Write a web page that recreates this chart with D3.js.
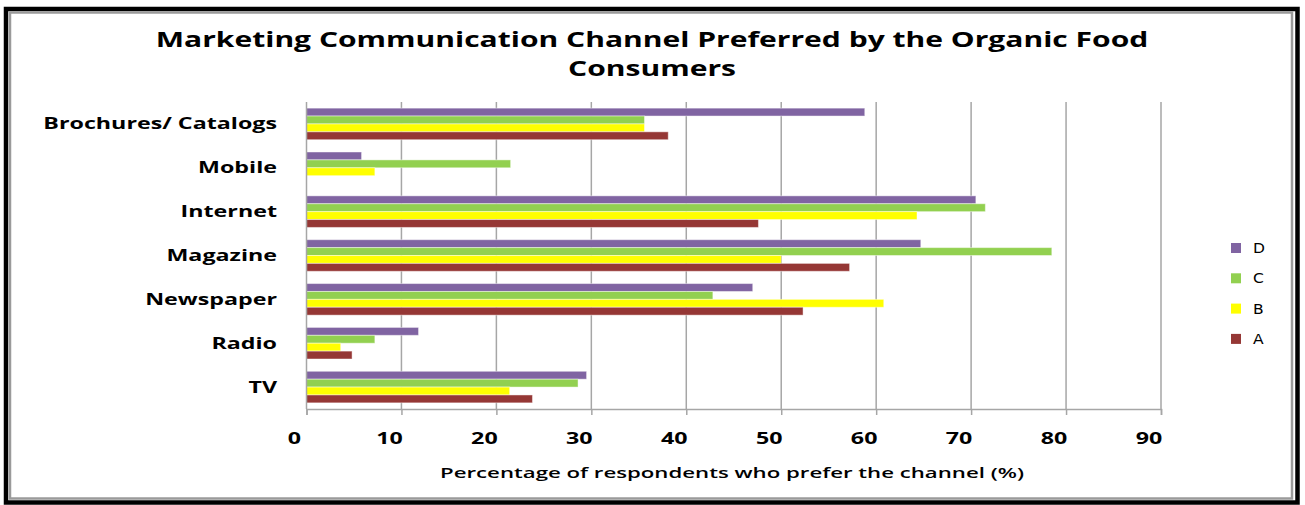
<!DOCTYPE html>
<html><head><meta charset="utf-8">
<script src="https://cdn.jsdelivr.net/npm/d3@7"></script>
<style>body{margin:0;background:#fff}svg{display:block}</style>
</head><body><svg id="c" width="1305" height="505"></svg>
<script>
const titleLines = ["Marketing Communication Channel Preferred by the Organic Food", "Consumers"];
const categories = ["Brochures/ Catalogs", "Mobile", "Internet", "Magazine", "Newspaper", "Radio", "TV"];
const seriesNames = ["D", "C", "B", "A"];
const seriesColors = ["#8064A2", "#92D050", "#FFFF00", "#953735"];
const valuesD = [58.8, 5.8, 70.5, 64.7, 47.0, 11.8, 29.5];
const valuesC = [35.6, 21.5, 71.5, 78.5, 42.8, 7.2, 28.6];
const valuesB = [35.6, 7.2, 64.3, 50.0, 60.8, 3.6, 21.4];
const valuesA = [38.1, 0, 47.6, 57.2, 52.3, 4.8, 23.8];
const xTicks = [0, 10, 20, 30, 40, 50, 60, 70, 80, 90];
const xTitle = "Percentage of respondents who prefer the channel (%)";

const seriesValues = {D: valuesD, C: valuesC, B: valuesB, A: valuesA};
const SX = 1.5;
const svg = d3.select("#c");

// frame
svg.append("rect").attr("x", 6).attr("y", 9).attr("width", 1291.5).attr("height", 493.5)
  .attr("fill", "#fff").attr("stroke", "#000").attr("stroke-width", 4.5);
svg.append("rect").attr("x", 10).attr("y", 12.5).attr("width", 1282).attr("height", 486)
  .attr("fill", "none").attr("stroke", "#9a9a9a").attr("stroke-width", 2.5);

const x = d3.scaleLinear().domain([0, 90]).range([306.5, 1161]);
const y = d3.scaleBand().domain(categories).range([102, 409]).paddingInner(0.28).paddingOuter(0.14);
const ys = d3.scaleBand().domain(seriesNames).range([0, y.bandwidth()]);

// gridlines
svg.append("g").selectAll("line").data(xTicks.slice(1)).join("line")
  .attr("x1", d => x(d)).attr("x2", d => x(d)).attr("y1", 102).attr("y2", 409)
  .attr("stroke", "#a6a6a6").attr("stroke-width", 1.5);

// bars
const rows = [];
categories.forEach((c, i) => seriesNames.forEach((s, j) => rows.push({c, s, v: seriesValues[s][i], col: seriesColors[j]})));
svg.append("g").selectAll("rect").data(rows.filter(d => d.v > 0)).join("rect")
  .attr("x", x(0)).attr("y", d => y(d.c) + ys(d.s))
  .attr("width", d => x(d.v) - x(0)).attr("height", ys.bandwidth())
  .attr("fill", d => d.col).attr("stroke", "#fff").attr("stroke-opacity", 0.45).attr("stroke-width", 1);

// axes
const xAxis = d3.axisBottom(x).tickValues(xTicks).tickSize(6).tickFormat("");
const gx = svg.append("g").attr("transform", "translate(0,409)").call(xAxis);
gx.select(".domain").attr("stroke", "#a6a6a6").attr("stroke-width", 1.5);
gx.selectAll(".tick line").attr("stroke", "#a6a6a6").attr("stroke-width", 1.5);
svg.append("line").attr("x1", x(0)).attr("x2", x(0)).attr("y1", 102).attr("y2", 409)
  .attr("stroke", "#a6a6a6").attr("stroke-width", 1.5);

// tick labels
svg.append("g").selectAll("text").data(xTicks).join("text")
  .attr("transform", d => `translate(${x(d) - 12},444) scale(${SX},1)`)
  .attr("text-anchor", "middle").attr("font-family", "'Open Sans', sans-serif")
  .attr("font-weight", 700).attr("font-size", 15.5).attr("fill", "#000").text(d => d);

// category labels
svg.append("g").selectAll("text").data(categories).join("text")
  .attr("transform", d => `translate(277,${y(d) + y.bandwidth() / 2 + 5.5}) scale(${SX},1)`)
  .attr("text-anchor", "end").attr("font-family", "'Open Sans', sans-serif")
  .attr("font-weight", 700).attr("font-size", 15.5).attr("fill", "#000").text(d => d);

// axis title
svg.append("text").attr("transform", `translate(732,477.5) scale(${SX},1)`)
  .attr("text-anchor", "middle").attr("font-family", "'Open Sans', sans-serif")
  .attr("font-weight", 600).attr("font-size", 14.8).attr("fill", "#000").text(xTitle);

// title
svg.append("g").selectAll("text").data(titleLines).join("text")
  .attr("transform", (d, i) => `translate(652,${47 + i * 29}) scale(1.43,1)`)
  .attr("text-anchor", "middle").attr("font-family", "'Open Sans', sans-serif")
  .attr("font-weight", 700).attr("font-size", 21).attr("fill", "#000").text(d => d);

// legend
const lg = svg.append("g").selectAll("g").data(seriesNames).join("g")
  .attr("transform", (d, i) => `translate(1231,${243 + i * 30.3})`);
lg.append("rect").attr("width", 10).attr("height", 10).attr("fill", (d, i) => seriesColors[i]);
lg.append("text").attr("transform", "translate(22,10) scale(1.15,1)").attr("font-family", "'DejaVu Sans', sans-serif")
  .attr("font-size", 13.5).attr("fill", "#000").text(d => d);
</script></body></html>
